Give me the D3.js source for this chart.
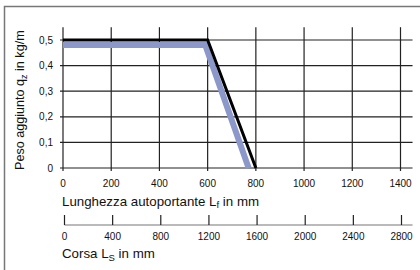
<!DOCTYPE html>
<html>
<head>
<meta charset="utf-8">
<script src="https://cdn.jsdelivr.net/npm/d3@7"></script>
<style>
  body { margin: 0; background: #fff; }
  svg { font-family: "Liberation Sans", Arial, sans-serif; }
  .tick-label { font-size: 10px; fill: #111; }
  .title { font-size: 13.3px; fill: #111; }
  .ytitle { font-size: 12.6px; fill: #111; }
</style>
</head>
<body>
<div id="chart"></div>
<script>
// Black limit curve: span length Lf (mm) -> extra load qz (kg/m)
const spanValues = [0, 600, 800];
const loadValues = [0.5, 0.5, 0];
// Blue band (shaded lower edge)
const bandSpan = [0, 590, 770];
const bandLoad = [0.48, 0.48, 0];

const xTicks = [0, 200, 400, 600, 800, 1000, 1200, 1400];
const yTicks = [0, 0.1, 0.2, 0.3, 0.4, 0.5];
const strokeTicks = [0, 400, 800, 1200, 1600, 2000, 2400, 2800];

const width = 420, height = 270;

const svg = d3.select("#chart").append("svg")
    .attr("width", width)
    .attr("height", height);

const x = d3.scaleLinear().domain([0, 1400]).range([63, 400.5]);
const y = d3.scaleLinear().domain([0, 0.5]).range([168, 40]);
const x2 = d3.scaleLinear().domain([0, 2800]).range([64.5, 401.5]);

// frame (left and top only)
svg.append("path")
    .attr("d", `M4.5,${height} V6.5 H${width}`)
    .attr("fill", "none")
    .attr("stroke", "#777")
    .attr("stroke-width", 1.5);

// grid
const grid = svg.append("g");
grid.selectAll(".h").data(yTicks).join("line")
    .attr("x1", 60).attr("x2", x(1450))
    .attr("y1", d => y(d)).attr("y2", d => y(d))
    .attr("stroke", "#222").attr("stroke-width", 1.2);
grid.selectAll(".v").data(xTicks).join("line")
    .attr("x1", d => x(d)).attr("x2", d => x(d))
    .attr("y1", y(0.55)).attr("y2", y(0) + 3)
    .attr("stroke", "#222").attr("stroke-width", 1.2);

// y tick labels
svg.append("g").selectAll("text").data(yTicks).join("text")
    .attr("class", "tick-label")
    .attr("x", 53)
    .attr("y", d => y(d) + 3.5)
    .attr("text-anchor", "end")
    .text(d => d3.format(".1f")(d).replace(".", ",").replace(/^0,0$/, "0"));

// x tick labels
svg.append("g").selectAll("text").data(xTicks).join("text")
    .attr("class", "tick-label")
    .attr("x", d => x(d))
    .attr("y", 187)
    .attr("text-anchor", "middle")
    .text(d => d);

// curves
const line = d3.line().x(d => x(d[0])).y(d => y(d[1]));
svg.append("path")
    .datum(bandSpan.map((d, i) => [d, bandLoad[i]]))
    .attr("d", line)
    .attr("fill", "none")
    .attr("stroke", "#8c98c9")
    .attr("stroke-width", 6);
svg.append("path")
    .datum(spanValues.map((d, i) => [d, loadValues[i]]))
    .attr("d", line)
    .attr("fill", "none")
    .attr("stroke", "#000")
    .attr("stroke-width", 3);

// second axis: stroke Ls
const ax2 = svg.append("g");
ax2.append("line")
    .attr("x1", x2(0)).attr("x2", x(1450))
    .attr("y1", 225).attr("y2", 225)
    .attr("stroke", "#777").attr("stroke-width", 1.2);
ax2.selectAll(".t").data(strokeTicks).join("line")
    .attr("x1", d => x2(d)).attr("x2", d => x2(d))
    .attr("y1", 215).attr("y2", 225)
    .attr("stroke", "#222").attr("stroke-width", 1.2);
ax2.selectAll("text").data(strokeTicks).join("text")
    .attr("class", "tick-label")
    .attr("x", d => x2(d))
    .attr("y", 240)
    .attr("text-anchor", "middle")
    .text(d => d);

// titles
const t1 = svg.append("text").attr("class", "title").attr("x", 62).attr("y", 206);
t1.append("tspan").text("Lunghezza autoportante L");
t1.append("tspan").attr("dy", 2).style("font-size", "9.5px").text("f");
t1.append("tspan").attr("dy", -2).text(" in mm");

const t2 = svg.append("text").attr("class", "title").attr("x", 62).attr("y", 258);
t2.append("tspan").text("Corsa L");
t2.append("tspan").attr("dy", 3).style("font-size", "9.5px").text("S");
t2.append("tspan").attr("dy", -3).text(" in mm");

const t3 = svg.append("text").attr("class", "ytitle")
    .attr("transform", "translate(24,170) rotate(-90)");
t3.append("tspan").text("Peso aggiunto q");
t3.append("tspan").attr("dy", 3).style("font-size", "9px").text("z");
t3.append("tspan").attr("dy", -3).text(" in kg/m");
</script>
</body>
</html>
